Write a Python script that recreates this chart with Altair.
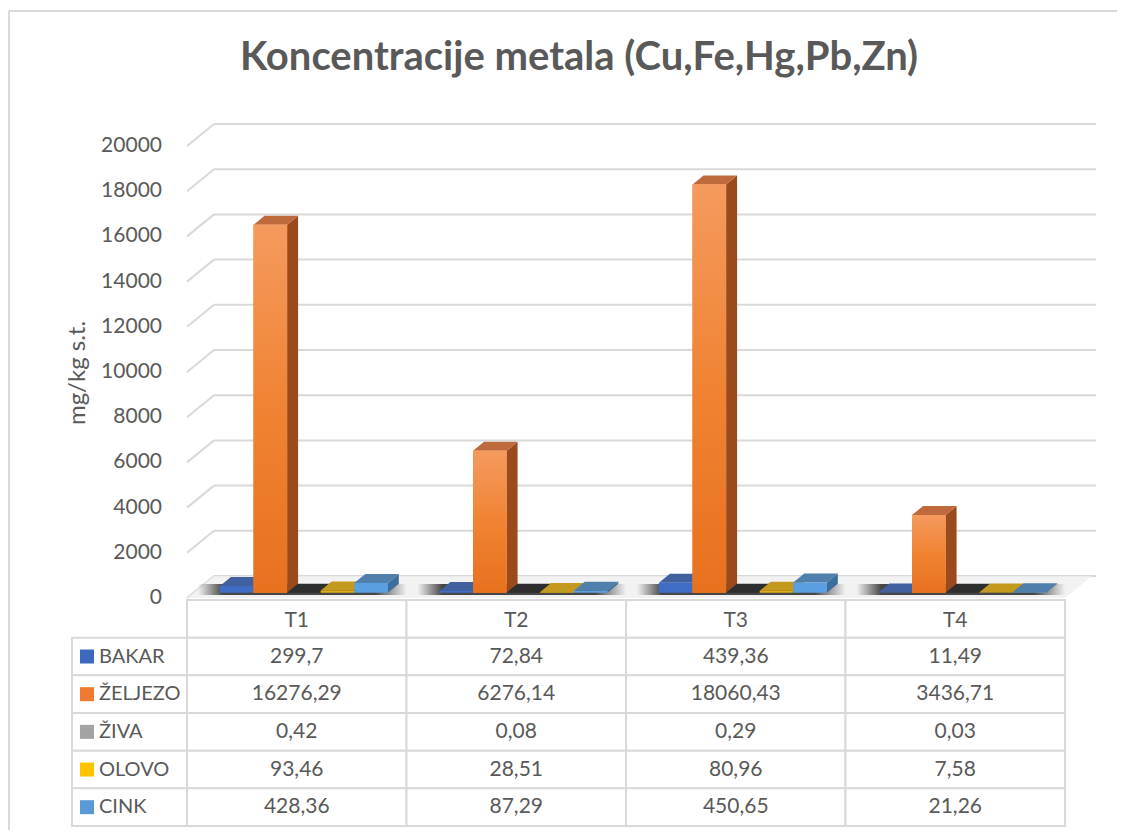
import altair as alt
import pandas as pd

# ---------------- data ----------------
categories = ["T1", "T2", "T3", "T4"]
series = ["BAKAR", "ŽELJEZO", "ŽIVA", "OLOVO", "CINK"]
bakar = [299.7, 72.84, 439.36, 11.49]
zeljezo = [16276.29, 6276.14, 18060.43, 3436.71]
ziva = [0.42, 0.08, 0.29, 0.03]
olovo = [93.46, 28.51, 80.96, 7.58]
cink = [428.36, 87.29, 450.65, 21.26]
y_ticks = [0, 2000, 4000, 6000, 8000, 10000, 12000, 14000, 16000, 18000, 20000]
y_title = "mg/kg s.t."
chart_title = "Koncentracije metala (Cu,Fe,Hg,Pb,Zn)"
values_by_series = [bakar, zeljezo, ziva, olovo, cink]

# ---------------- styles ----------------
front_colors = ["#3F6DC6", "#F07B2A", "#3A3A3A", "#E2AE14", "#5AA0E0"]
top_colors = ["#41609F", "#BE6A3C", "#2E2E2E", "#C39A1E", "#4F7FAA"]
side_colors = ["#2D4E8C", "#9A4A1B", "#262626", "#8E6E08", "#3C6E9C"]
key_colors = ["#3D68BF", "#F07A30", "#A3A3A3", "#FFC400", "#5B9BD5"]
TEXT = "#595959"
GRID = "#D9D9D9"
FONT = "Lato"

PLOT_W, PLOT_H = 1024, 701
COL = 219.5                      # px per category column
XMIN = -115 / COL
XMAX = XMIN + PLOT_W / COL
PX = 452 / 20000                 # px per value unit
ZERO = 473                       # px of front zero line from plot top
YMAX = ZERO / PX
YMIN = YMAX - PLOT_H / PX


def val(p):
    """pixel distance from plot top -> value units"""
    return (ZERO - p) / PX


XS = alt.Scale(domain=[XMIN, XMAX], nice=False, zero=False)
YS = alt.Scale(domain=[YMIN, YMAX], nice=False, zero=False)

GDX, GDY = 27 / COL, 22 / PX     # wall depth
BDX, BDY = 11 / COL, 9 / PX      # bar depth
BASE = val(467.7)
BAR_W = 0.153
BAR_START = 0.150

# ---------------- derived tables ----------------
grid_df = pd.DataFrame({"v": y_ticks})
grid_df["yb"] = grid_df["v"] + GDY
grid_df["x0"] = 0.0
grid_df["xg"] = GDX
grid_df["xe"] = XMAX
grid_df["lab"] = [str(v) for v in y_ticks]

floor_df = pd.DataFrame({"y": [0.0, GDY], "x": [0.0, GDX], "x2": [4.0, 4.0 + GDX]})

shadow_df = pd.DataFrame({
    "x": [i + 0.05 for i in range(len(categories))],
    "x2": [i + 1.0 for i in range(len(categories))],
    "y": [val(470)] * len(categories),
    "y2": [val(459)] * len(categories),
})

front_rows, side_rows, top_rows = [], [], []
for i, c in enumerate(categories):
    for k, s in enumerate(series):
        v = values_by_series[k][i]
        xl = i + BAR_START + k * BAR_W
        xr = xl + BAR_W
        bid = f"{c}-{s}"
        front_rows.append(dict(id=bid, series=s, x=xl, x2=xr, y=BASE, y2=BASE + v,
                               col=front_colors[k]))
        side_rows.append(dict(id=bid, x=xr, y=BASE + v, y2=BASE, col=side_colors[k]))
        side_rows.append(dict(id=bid, x=xr + BDX, y=BASE + v + BDY, y2=BASE + BDY, col=side_colors[k]))
        top_rows.append(dict(id=bid, y=BASE + v, x=xl, x2=xr, col=top_colors[k]))
        top_rows.append(dict(id=bid, y=BASE + v + BDY, x=xl + BDX, x2=xr + BDX, col=top_colors[k]))
front_df = pd.DataFrame(front_rows)
side_df = pd.DataFrame(side_rows)
top_df = pd.DataFrame(top_rows)

ROW = 37.67
TTOP = 475


def row_top(r):
    return val(TTOP + r * ROW)


def row_bot(r):
    return val(TTOP + (r + 1) * ROW)


def row_mid(r):
    return val(TTOP + (r + 0.5) * ROW)


cells = []
for i in range(len(categories)):
    cells.append(dict(x=i, x2=i + 1, y=row_top(0), y2=row_bot(0)))
for r in range(1, len(series) + 1):
    cells.append(dict(x=XMIN, x2=0, y=row_top(r), y2=row_bot(r)))
    for i in range(len(categories)):
        cells.append(dict(x=i, x2=i + 1, y=row_top(r), y2=row_bot(r)))
cells_df = pd.DataFrame(cells)

head_df = pd.DataFrame({"x": [i + 0.5 for i in range(len(categories))],
                        "y": [val(TTOP + 0.55 * ROW)] * len(categories), "t": categories})

vals = []
for k, s in enumerate(series):
    for i in range(len(categories)):
        vals.append(dict(x=i + 0.5, y=row_mid(k + 1),
                         t=str(values_by_series[k][i]).replace(".", ",")))
vals_df = pd.DataFrame(vals)

lab_df = pd.DataFrame({"x": [XMIN] * len(series),
                       "y": [row_mid(k + 1) for k in range(len(series))],
                       "t": series})
key_df = pd.DataFrame({"x": [XMIN + 8 / COL] * len(series),
                       "x2": [XMIN + 22 / COL] * len(series),
                       "y": [val(TTOP + (k + 1.5) * ROW - 7) for k in range(len(series))],
                       "y2": [val(TTOP + (k + 1.5) * ROW + 7) for k in range(len(series))],
                       "col": key_colors})

# ---------------- layers ----------------
grid_slant = alt.Chart(grid_df).mark_rule(color=GRID, strokeWidth=2).encode(
    x=alt.X("x0:Q", scale=XS, axis=None), x2="xg:Q",
    y=alt.Y("v:Q", scale=YS, axis=None), y2="yb:Q")
grid_back = alt.Chart(grid_df).mark_rule(color=GRID, strokeWidth=2).encode(
    x=alt.X("xg:Q", scale=XS, axis=None), x2="xe:Q",
    y=alt.Y("yb:Q", scale=YS, axis=None))
tick_labels = alt.Chart(grid_df).mark_text(
    font=FONT, fontSize=21, color=TEXT, align="right", baseline="middle", dx=-25).encode(
    x=alt.X("x0:Q", scale=XS, axis=None), y=alt.Y("v:Q", scale=YS, axis=None), text="lab:N")
ytitle_l = alt.Chart(pd.DataFrame({"t": [y_title], "x": [XMIN + 6 / COL], "y": [val(248)]})).mark_text(
    font=FONT, fontSize=24, color=TEXT, align="center", baseline="middle", angle=270).encode(
    x=alt.X("x:Q", scale=XS, axis=None), y=alt.Y("y:Q", scale=YS, axis=None), text="t:N")

floor = alt.Chart(floor_df).mark_area(orient="horizontal", color="#EFEFEF", opacity=0.8).encode(
    y=alt.Y("y:Q", scale=YS, axis=None), x=alt.X("x:Q", scale=XS, axis=None), x2="x2:Q")

shadow_grad = alt.Gradient(gradient="linear", x1=0, x2=1, y1=0, y2=0, stops=[
    alt.GradientStop(color="rgba(40,40,40,0)", offset=0),
    alt.GradientStop(color="rgba(40,40,40,0.85)", offset=0.12),
    alt.GradientStop(color="rgba(40,40,40,0.85)", offset=0.85),
    alt.GradientStop(color="rgba(40,40,40,0)", offset=1)])
shadow = alt.Chart(shadow_df).mark_rect(fill=shadow_grad).encode(
    x=alt.X("x:Q", scale=XS, axis=None), x2="x2:Q",
    y=alt.Y("y:Q", scale=YS, axis=None), y2="y2:Q")

sides = alt.Chart(side_df).mark_area(orient="vertical").encode(
    x=alt.X("x:Q", scale=XS, axis=None),
    y=alt.Y("y:Q", scale=YS, axis=None), y2="y2:Q",
    detail="id:N", color=alt.Color("col:N", scale=None))
tops = alt.Chart(top_df).mark_area(orient="horizontal").encode(
    y=alt.Y("y:Q", scale=YS, axis=None),
    x=alt.X("x:Q", scale=XS, axis=None), x2="x2:Q",
    detail="id:N", color=alt.Color("col:N", scale=None))
fronts = alt.Chart(front_df).mark_rect().encode(
    x=alt.X("x:Q", scale=XS, axis=None), x2="x2:Q",
    y=alt.Y("y:Q", scale=YS, axis=None), y2="y2:Q",
    color=alt.Color("col:N", scale=None))
orange_grad = alt.Gradient(gradient="linear", x1=0, x2=0, y1=0, y2=1, stops=[
    alt.GradientStop(color="#F59A5E", offset=0),
    alt.GradientStop(color="#F08333", offset=0.5),
    alt.GradientStop(color="#E8711E", offset=1)])
fronts_orange = alt.Chart(front_df).transform_filter(
    alt.datum.series == "ŽELJEZO").mark_rect(fill=orange_grad).encode(
    x=alt.X("x:Q", scale=XS, axis=None), x2="x2:Q",
    y=alt.Y("y:Q", scale=YS, axis=None), y2="y2:Q")

cells_l = alt.Chart(cells_df).mark_rect(fill="white", stroke=GRID, strokeWidth=2).encode(
    x=alt.X("x:Q", scale=XS, axis=None), x2="x2:Q",
    y=alt.Y("y:Q", scale=YS, axis=None), y2="y2:Q")
head_l = alt.Chart(head_df).mark_text(font=FONT, fontSize=21, color=TEXT, baseline="middle").encode(
    x=alt.X("x:Q", scale=XS, axis=None), y=alt.Y("y:Q", scale=YS, axis=None), text="t:N")
vals_l = alt.Chart(vals_df).mark_text(font=FONT, fontSize=21, color=TEXT, baseline="middle").encode(
    x=alt.X("x:Q", scale=XS, axis=None), y=alt.Y("y:Q", scale=YS, axis=None), text="t:N")
lab_l = alt.Chart(lab_df).mark_text(font=FONT, fontSize=20, color=TEXT, baseline="middle",
                                    align="left", dx=27).encode(
    x=alt.X("x:Q", scale=XS, axis=None), y=alt.Y("y:Q", scale=YS, axis=None), text="t:N")
keys_l = alt.Chart(key_df).mark_rect().encode(
    x=alt.X("x:Q", scale=XS, axis=None), x2="x2:Q",
    y=alt.Y("y:Q", scale=YS, axis=None), y2="y2:Q",
    color=alt.Color("col:N", scale=None))

one = pd.DataFrame({"a": [0]})
border_left = alt.Chart(one).mark_rule(color=GRID, strokeWidth=2).encode(
    x=alt.value(-63), y=alt.value(-114), y2=alt.value(713))
border_top = alt.Chart(one).mark_rule(color=GRID, strokeWidth=2).encode(
    x=alt.value(-63), x2=alt.value(1061), y=alt.value(-114))
title_l = alt.Chart(pd.DataFrame({"t": [chart_title]})).mark_text(
    font=FONT, fontSize=40, fontWeight="bold", color=TEXT, align="center",
    baseline="alphabetic").encode(x=alt.value(507), y=alt.value(-55), text="t:N")

chart = alt.layer(
    grid_slant, grid_back, tick_labels, ytitle_l, border_left, border_top, floor, shadow,
    sides, tops, fronts, fronts_orange,
    cells_l, head_l, vals_l, lab_l, keys_l, title_l,
).properties(
    width=PLOT_W, height=PLOT_H,
    padding={"left": 64, "top": 117, "right": 21, "bottom": 4},
    autosize=alt.AutoSizeParams(type="none"),
).configure(background="white", view=alt.ViewConfig(stroke=None))

chart.save("out.html", embed_options={"renderer": "svg", "actions": False})
